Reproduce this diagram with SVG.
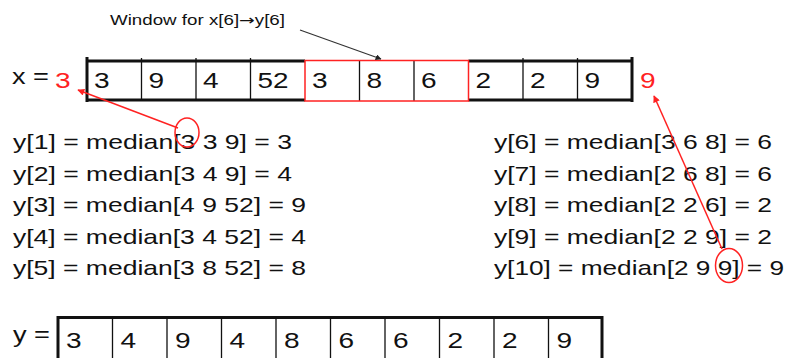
<svg xmlns="http://www.w3.org/2000/svg" width="792" height="358" viewBox="0 0 792 358">
<style>
text{font-family:"Liberation Sans",Arial,sans-serif;fill:#111}
.cell{font-size:22.5px}
.eq{font-size:21px}
.red{fill:#f22}
.thick{stroke:#111;stroke-width:3;fill:none}
.thin{stroke:#111;stroke-width:1.3;fill:none}
.rl{stroke:#f22;stroke-width:1.5;fill:none}
</style>
<defs>
<marker id="ah" viewBox="0 0 10 10" refX="9" refY="5" markerWidth="6" markerHeight="6" orient="auto" markerUnits="userSpaceOnUse"><path d="M0,0 L10,5 L0,10 z" fill="#222"/></marker>
<marker id="rh" viewBox="0 0 10 10" refX="9" refY="5" markerWidth="8" markerHeight="7" orient="auto" markerUnits="userSpaceOnUse"><path d="M0,0 L10,5 L0,10 z" fill="#f22"/></marker>
</defs>

<g id="label">
<text x="110" y="25" font-size="14" textLength="175" lengthAdjust="spacingAndGlyphs">Window for x[6]<tspan font-family="DejaVu Sans, sans-serif">→</tspan>y[6]</text>
</g>

<g id="x-array">
<text class="cell" x="12" y="84" textLength="37" lengthAdjust="spacingAndGlyphs">x =</text>
<text class="cell red" x="55" y="88" textLength="15.6" lengthAdjust="spacingAndGlyphs">3</text>
<text class="cell red" x="640" y="88" textLength="15.6" lengthAdjust="spacingAndGlyphs">9</text>
<path class="thick" d="M87,61 H305 M468.5,61 H632 M87,100 H305 M468.5,100 H632 M87,57 V102 M632,57 V102"/>
<path class="thin" d="M141.5,58 V101 M196,58 V101 M250.5,58 V101 M359.5,60 V101 M414,60 V101 M523,58 V101 M577.5,58 V101"/>
<rect class="rl" x="305" y="60.5" width="163.5" height="40.5"/>
<text class="cell" x="94" y="88" textLength="15.6" lengthAdjust="spacingAndGlyphs">3</text>
<text class="cell" x="148.5" y="88" textLength="15.6" lengthAdjust="spacingAndGlyphs">9</text>
<text class="cell" x="203" y="88" textLength="15.6" lengthAdjust="spacingAndGlyphs">4</text>
<text class="cell" x="257.5" y="88" textLength="31" lengthAdjust="spacingAndGlyphs">52</text>
<text class="cell" x="312" y="88" textLength="15.6" lengthAdjust="spacingAndGlyphs">3</text>
<text class="cell" x="366.5" y="88" textLength="15.6" lengthAdjust="spacingAndGlyphs">8</text>
<text class="cell" x="421" y="88" textLength="15.6" lengthAdjust="spacingAndGlyphs">6</text>
<text class="cell" x="475.5" y="88" textLength="15.6" lengthAdjust="spacingAndGlyphs">2</text>
<text class="cell" x="530" y="88" textLength="15.6" lengthAdjust="spacingAndGlyphs">2</text>
<text class="cell" x="584.5" y="88" textLength="15.6" lengthAdjust="spacingAndGlyphs">9</text>
</g>

<g id="equations-left">
<text class="eq" x="13" y="149" textLength="279" lengthAdjust="spacingAndGlyphs">y[1] = median[3 3 9] = 3</text>
<text class="eq" x="13" y="180.5" textLength="279" lengthAdjust="spacingAndGlyphs">y[2] = median[3 4 9] = 4</text>
<text class="eq" x="13" y="212" textLength="293" lengthAdjust="spacingAndGlyphs">y[3] = median[4 9 52] = 9</text>
<text class="eq" x="13" y="243.5" textLength="293" lengthAdjust="spacingAndGlyphs">y[4] = median[3 4 52] = 4</text>
<text class="eq" x="13" y="275" textLength="293" lengthAdjust="spacingAndGlyphs">y[5] = median[3 8 52] = 8</text>
</g>

<g id="equations-right">
<text class="eq" x="494" y="149" textLength="278" lengthAdjust="spacingAndGlyphs">y[6] = median[3 6 8] = 6</text>
<text class="eq" x="494" y="180.5" textLength="278" lengthAdjust="spacingAndGlyphs">y[7] = median[2 6 8] = 6</text>
<text class="eq" x="494" y="212" textLength="278" lengthAdjust="spacingAndGlyphs">y[8] = median[2 2 6] = 2</text>
<text class="eq" x="494" y="243.5" textLength="278" lengthAdjust="spacingAndGlyphs">y[9] = median[2 2 9] = 2</text>
<text class="eq" x="494" y="275" textLength="290" lengthAdjust="spacingAndGlyphs">y[10] = median[2 9 9] = 9</text>
</g>

<g id="y-array">
<text class="cell" x="13" y="342" textLength="37" lengthAdjust="spacingAndGlyphs">y =</text>
<path class="thick" d="M56.5,317.5 H603.5 M58,316 V360 M602,316 V360"/>
<path class="thin" d="M112.5,318 V360 M167,318 V360 M221.5,318 V360 M276,318 V360 M330.5,318 V360 M385,318 V360 M439.5,318 V360 M494,318 V360 M548.5,318 V360"/>
<text class="cell" x="66" y="348" textLength="15.6" lengthAdjust="spacingAndGlyphs">3</text>
<text class="cell" x="120.5" y="348" textLength="15.6" lengthAdjust="spacingAndGlyphs">4</text>
<text class="cell" x="175" y="348" textLength="15.6" lengthAdjust="spacingAndGlyphs">9</text>
<text class="cell" x="229.5" y="348" textLength="15.6" lengthAdjust="spacingAndGlyphs">4</text>
<text class="cell" x="284" y="348" textLength="15.6" lengthAdjust="spacingAndGlyphs">8</text>
<text class="cell" x="338.5" y="348" textLength="15.6" lengthAdjust="spacingAndGlyphs">6</text>
<text class="cell" x="393" y="348" textLength="15.6" lengthAdjust="spacingAndGlyphs">6</text>
<text class="cell" x="447.5" y="348" textLength="15.6" lengthAdjust="spacingAndGlyphs">2</text>
<text class="cell" x="502" y="348" textLength="15.6" lengthAdjust="spacingAndGlyphs">2</text>
<text class="cell" x="556.5" y="348" textLength="15.6" lengthAdjust="spacingAndGlyphs">9</text>
</g>

<g id="highlights">
<ellipse class="rl" cx="187" cy="132.5" rx="12" ry="14.5"/>
<ellipse class="rl" cx="729" cy="265.5" rx="13.5" ry="17"/>
</g>

<g id="connectors">
<line x1="300" y1="30" x2="381" y2="59" stroke="#333" stroke-width="1.2" marker-end="url(#ah)"/>
<line x1="178" y1="128" x2="78" y2="90" stroke="#f22" stroke-width="1.5" marker-end="url(#rh)"/>
<line x1="722" y1="249" x2="654" y2="96" stroke="#f22" stroke-width="1.5" marker-end="url(#rh)"/>
</g>
</svg>
